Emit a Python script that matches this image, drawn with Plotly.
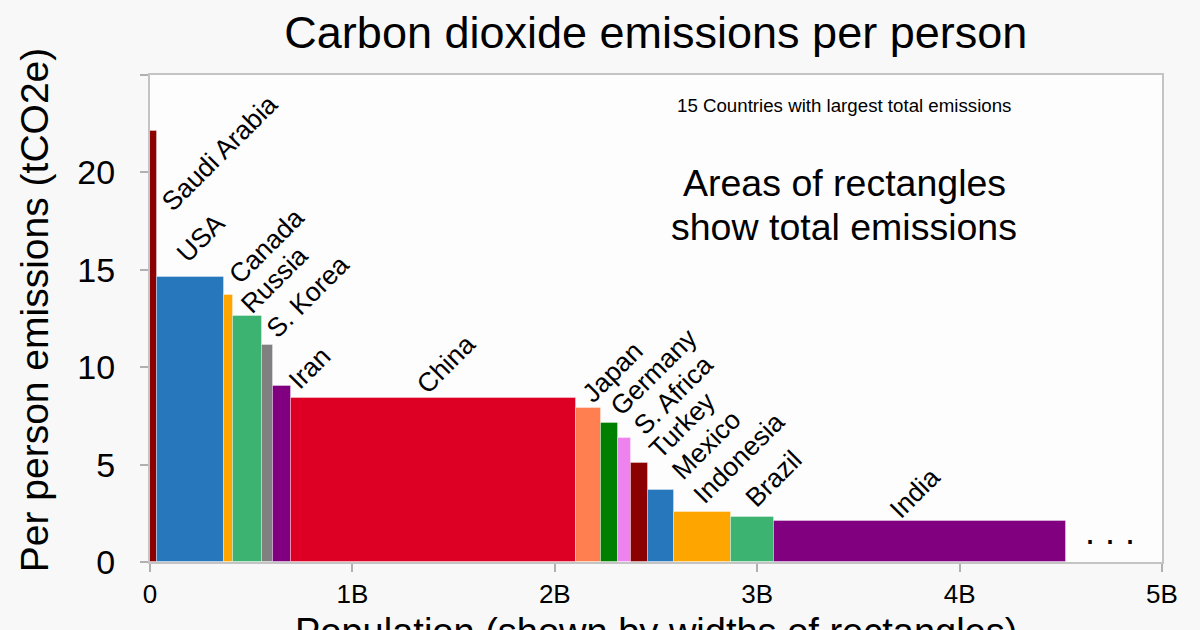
import plotly.graph_objects as go

# ---- data ----
countries = ["Saudi Arabia", "USA", "Canada", "Russia", "S. Korea", "Iran", "China",
             "Japan", "Germany", "S. Africa", "Turkey", "Mexico", "Indonesia", "Brazil", "India"]
population_b = [0.033, 0.334, 0.0415, 0.143, 0.054, 0.089, 1.408,
                0.126, 0.084, 0.063, 0.085, 0.128, 0.284, 0.209, 1.443]
per_person_t = [22.15, 14.65, 13.7, 12.62, 11.16, 9.02, 8.42,
                7.93, 7.14, 6.36, 5.08, 3.72, 2.59, 2.29, 2.10]

x_tick_vals = [0, 1, 2, 3, 4, 5]
x_tick_text = ["0", "1B", "2B", "3B", "4B", "5B"]
y_tick_vals = [0, 5, 10, 15, 20, 25]
y_tick_text = ["0", "5", "10", "15", "20", ""]

# ---- styles ----
bar_colors = ["#8b0000", "#2677bb", "#ffa500", "#3cb371", "#808080", "#800080", "#dd0024",
              "#ff7f50", "#008000", "#ee82ee", "#8b0000", "#2677bb", "#ffa500", "#3cb371", "#800080"]
# label offsets in pixels relative to (bar centre, bar top)
label_dx = [66, 10, 38, 27, 40, 28, 13, 24, 44, 49, 43, 45, 36, 21, -5]
label_dy = [-22, 39, 49, 36, 48, 18, 34, 36, 51, 43, 38, 45, 54, 38, 28]

FONT = "Liberation Sans, Arial, sans-serif"

# positions of bars from cumulative population
left_edges = []
acc = 0.0
for w in population_b:
    left_edges.append(acc)
    acc += w
centers = [l + w / 2 for l, w in zip(left_edges, population_b)]

fig = go.Figure()
fig.add_trace(go.Bar(
    x=centers,
    y=per_person_t,
    width=population_b,
    marker=dict(color=bar_colors, line=dict(color="rgba(255,255,255,0.35)", width=1)),
    hovertext=countries,
    showlegend=False,
))

annotations = []
for name, cx, top, dx, dy in zip(countries, centers, per_person_t, label_dx, label_dy):
    annotations.append(dict(
        x=cx, y=top, xref="x", yref="y", text=name, showarrow=False,
        textangle=-45, xanchor="center", yanchor="middle",
        xshift=dx, yshift=dy,
        font=dict(family=FONT, size=26.5, color="#000000"),
    ))

annotations.append(dict(
    x=acc + 0.22, y=1.55, xref="x", yref="y", text=". . .", showarrow=False,
    xanchor="center", yanchor="middle", font=dict(family=FONT, size=36, color="#000000"),
))
annotations.append(dict(
    x=0.686, y=0.938, xref="paper", yref="paper", text="15 Countries with largest total emissions",
    showarrow=False, xanchor="center", yanchor="middle",
    font=dict(family=FONT, size=18.7, color="#000000"),
))
annotations.append(dict(
    x=0.686, y=0.779, xref="paper", yref="paper", text="Areas of rectangles",
    showarrow=False, xanchor="center", yanchor="middle",
    font=dict(family=FONT, size=37.5, color="#000000"),
))
annotations.append(dict(
    x=0.686, y=0.688, xref="paper", yref="paper", text="show total emissions",
    showarrow=False, xanchor="center", yanchor="middle",
    font=dict(family=FONT, size=37.5, color="#000000"),
))
# axis titles (placed as paper annotations for exact positioning)
annotations.append(dict(
    x=0.5, y=-0.096, xref="paper", yref="paper", text="Population (shown by widths of rectangles)",
    showarrow=False, xanchor="center", yanchor="top",
    font=dict(family=FONT, size=38, color="#000000"),
))
annotations.append(dict(
    x=-0.1146, y=0.517, xref="paper", yref="paper", text="Per person emissions (tCO2e)",
    showarrow=False, xanchor="center", yanchor="middle", textangle=-90,
    font=dict(family=FONT, size=39, color="#000000"),
))

fig.update_layout(
    width=1200, height=630,
    margin=dict(l=150, r=38, t=75, b=68),
    paper_bgcolor="#f8f8f8",
    plot_bgcolor="#fdfdfe",
    font=dict(family=FONT, color="#000000"),
    title=dict(text="Carbon dioxide emissions per person", x=0.5465, xanchor="center",
               y=0.949, yanchor="middle", font=dict(family=FONT, size=45, color="#000000")),
    bargap=0,
    annotations=annotations,
)
fig.update_xaxes(
    range=[0, 5], tickvals=x_tick_vals, ticktext=x_tick_text,
    showgrid=False, zeroline=False,
    showline=True, linecolor="#c4c4c4", linewidth=2, mirror=True,
    ticks="outside", ticklen=8, tickcolor="#b0b0b0", tickwidth=2,
    tickfont=dict(family=FONT, size=26, color="#000000"),
    automargin=False,
)
fig.update_yaxes(
    range=[0, 25], tickvals=y_tick_vals, ticktext=y_tick_text,
    showgrid=False, zeroline=False,
    showline=True, linecolor="#c4c4c4", linewidth=2, mirror=True,
    ticks="outside", ticklen=8, tickcolor="#b0b0b0", tickwidth=2,
    ticklabelstandoff=18,
    tickfont=dict(family=FONT, size=34, color="#000000"),
    automargin=False,
)

fig.write_html("out.html")
